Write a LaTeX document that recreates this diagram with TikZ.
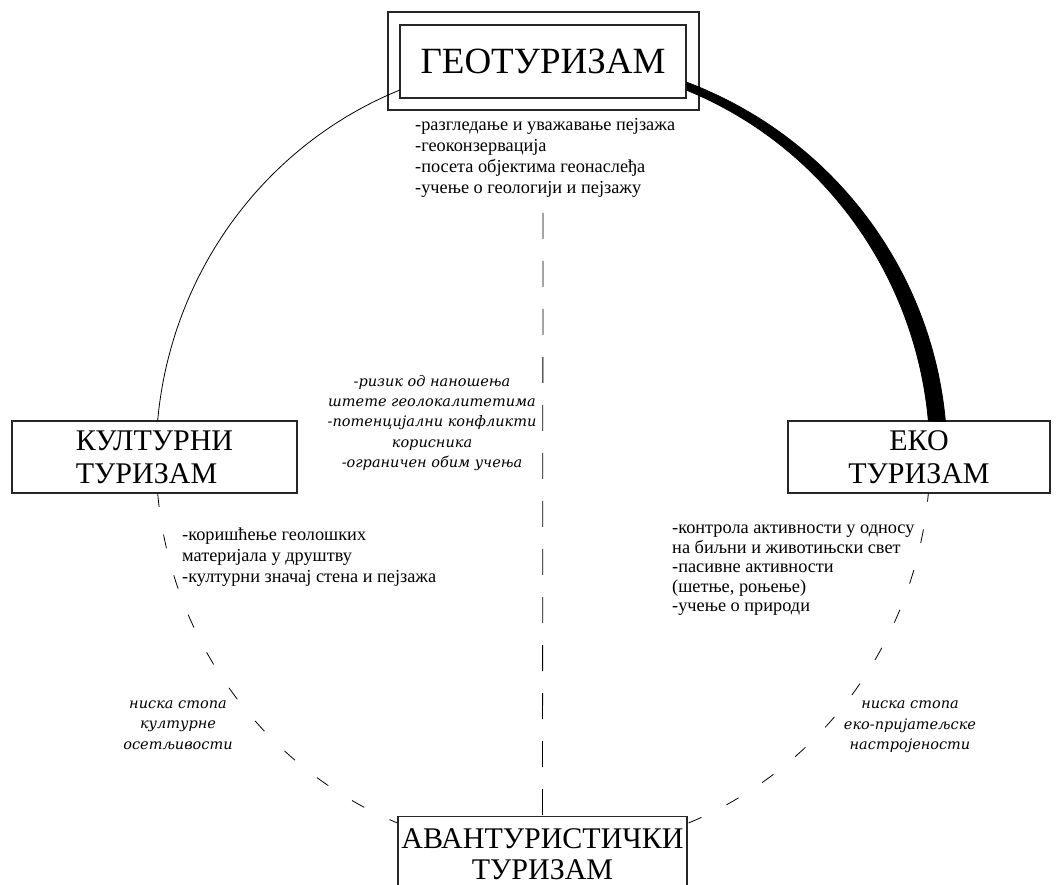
\documentclass[tikz,border=0pt]{standalone}
\usepackage{fontspec}
\setmainfont{Liberation Serif}
\newfontfamily\srbit{DejaVu Serif}
\begin{document}
\begin{tikzpicture}[x=1pt,y=1pt,
  box/.style={draw=black!85, line width=1.1pt, inner sep=0pt},
  big/.style={font=\fontsize{30}{33}\selectfont},
  lst/.style={font=\fontsize{18.3}{21}\selectfont, align=left, inner sep=0pt},
  itl/.style={font=\srbit\itshape\fontsize{14.5}{20.3}\selectfont, align=center, inner sep=0pt},
  thinline/.style={line width=0.8pt},
  dsh/.style={line width=0.8pt, dash pattern=on 14pt off 28pt}]
\useasboundingbox (0,0) rectangle (1062,884);
\clip (0,0) rectangle (1062,884);
\coordinate (C) at (543,427);
% boxes
\node[box, minimum width=311, minimum height=98] (geoout) at (543.5,823) {};
\node[box, minimum width=286, minimum height=73, font=\fontsize{37}{40}\selectfont] (geo) at (543,822.5) {ГЕОТУРИЗАМ};
\node[box, minimum width=285, minimum height=72, big, align=left] (kult) at (154.5,427) {КУЛТУРНИ\\ТУРИЗАМ};
\node[box, minimum width=262, minimum height=72, big, align=center] (eko) at (919,427) {ЕКО\\ТУРИЗАМ};
\node[box, minimum width=289, minimum height=76, align=center, anchor=north, font=\fontsize{30}{31}\selectfont] (avant) at (542.5,68) {АВАНТУРИСТИЧКИ\\ТУРИЗАМ};
% texts
\node[lst, anchor=north west] (geolist) at (415,766) {-разгледање и уважавање пејзажа\\-геоконзервација\\-посета објектима геонаслеђа\\-учење о геологији и пејзажу};
\node[itl] (risk) at (432,461) {-ризик од наношења\\штете геолокалитетима\\-потенцијални конфликти\\корисника\\-ограничен обим учења};
\node[lst, anchor=north west] (kultlist) at (182,356) {-коришћење геолошких\\материјала у друштву\\-културни значај стена и пејзажа};
\node[lst, anchor=north west, font=\fontsize{18.3}{19.5}\selectfont] (ekolist) at (672,359) {-контрола активности у односу\\на биљни и животињски свет\\-пасивне активности\\(шетње, роњење)\\-учење о природи};
\node[itl] (lowc) at (178,159) {ниска стопа\\културне\\осетљивости};
\node[itl] (lowe) at (910,157) {ниска стопа\\еко-пријатељске\\настројености};
% circle parts
\draw[thinline] (C) ++(111.7:387 and 395) arc[start angle=111.7, end angle=174.77, x radius=387, y radius=395];
\draw[dsh] (C) ++(185.23:387 and 395) arc[start angle=185.23, end angle=247.9, x radius=387, y radius=395];
\draw[dsh] (C) ++(-67.9:387 and 395) arc[start angle=-67.9, end angle=-5.23, x radius=387, y radius=395];
\filldraw[thinline] (C) ++(68.15:387 and 395) arc[start angle=68.15, end angle=5.23, x radius=387, y radius=395]
  -- ([shift={(C)}]5.09:404 and 401) arc[start angle=5.09, end angle=69.12, x radius=404, y radius=401] -- cycle;
\draw[line width=0.8pt, dash pattern=on 26pt off 22pt] (543,671) -- (avant.north);
\end{tikzpicture}
\end{document}
